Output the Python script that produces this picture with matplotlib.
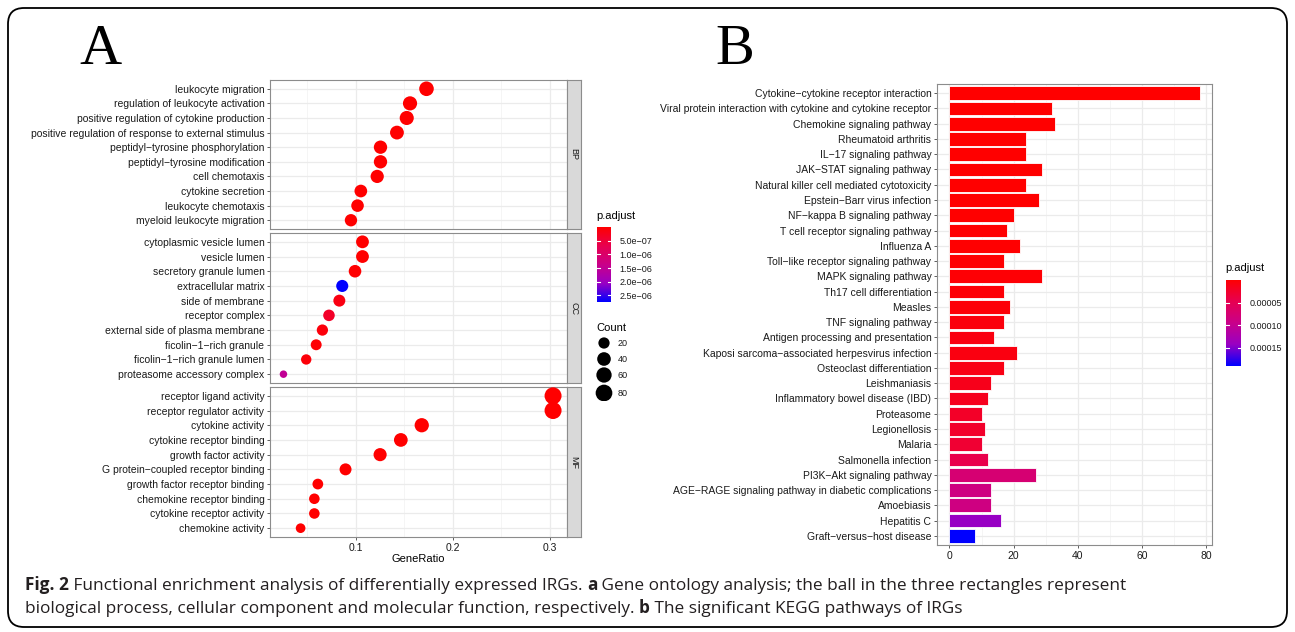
import numpy as np
import matplotlib
matplotlib.use("Agg")
import matplotlib.pyplot as plt
from matplotlib.colors import LinearSegmentedColormap, Normalize
from matplotlib.patches import FancyBboxPatch
from matplotlib.text import Annotation

W, H = 1295, 632
LABEL_FONT = ["Liberation Sans", "DejaVu Sans"]
LABEL_SIZE = 7.5

# ---- GO dot plot data (top to bottom within each ontology) ----
bp_terms = ["leukocyte migration", "regulation of leukocyte activation",
            "positive regulation of cytokine production",
            "positive regulation of response to external stimulus",
            "peptidyl\u2212tyrosine phosphorylation", "peptidyl\u2212tyrosine modification",
            "cell chemotaxis", "cytokine secretion", "leukocyte chemotaxis",
            "myeloid leukocyte migration"]
bp_ratio = [0.1729, 0.1559, 0.1525, 0.1424, 0.1254, 0.1254, 0.1220, 0.1051, 0.1017, 0.0949]
bp_count = [51, 46, 45, 42, 37, 37, 36, 31, 30, 28]
bp_padj = [1e-12, 2e-12, 2e-12, 5e-12, 1e-11, 1e-11, 2e-11, 3e-10, 5e-10, 8e-10]

cc_terms = ["cytoplasmic vesicle lumen", "vesicle lumen", "secretory granule lumen",
            "extracellular matrix", "side of membrane", "receptor complex",
            "external side of plasma membrane", "ficolin\u22121\u2212rich granule",
            "ficolin\u22121\u2212rich granule lumen", "proteasome accessory complex"]
cc_ratio = [0.1068, 0.1068, 0.0991, 0.0859, 0.0829, 0.0722, 0.0654, 0.0590, 0.0487, 0.0252]
cc_count = [32, 32, 30, 26, 25, 22, 20, 18, 15, 8]
cc_padj = [5e-9, 5e-9, 2e-8, 2.74e-6, 1.5e-7, 3.5e-7, 1e-7, 5e-8, 8e-8, 1.5e-6]

mf_terms = ["receptor ligand activity", "receptor regulator activity", "cytokine activity",
            "cytokine receptor binding", "growth factor activity",
            "G protein\u2212coupled receptor binding", "growth factor receptor binding",
            "chemokine receptor binding", "cytokine receptor activity", "chemokine activity"]
mf_ratio = [0.3036, 0.3036, 0.1680, 0.1464, 0.1250, 0.0893, 0.0607, 0.0571, 0.0571, 0.0429]
mf_count = [85, 85, 47, 41, 35, 25, 17, 16, 16, 12]
mf_padj = [1e-30, 1e-29, 1e-20, 1e-18, 1e-12, 1e-10, 1e-9, 2e-9, 2e-9, 1e-8]

# ---- KEGG bar plot data (top to bottom) ----
kegg_terms = ["Cytokine\u2212cytokine receptor interaction",
              "Viral protein interaction with cytokine and cytokine receptor",
              "Chemokine signaling pathway", "Rheumatoid arthritis", "IL\u221217 signaling pathway",
              "JAK\u2212STAT signaling pathway", "Natural killer cell mediated cytotoxicity",
              "Epstein\u2212Barr virus infection", "NF\u2212kappa B signaling pathway",
              "T cell receptor signaling pathway", "Influenza A",
              "Toll\u2212like receptor signaling pathway", "MAPK signaling pathway",
              "Th17 cell differentiation", "Measles", "TNF signaling pathway",
              "Antigen processing and presentation",
              "Kaposi sarcoma\u2212associated herpesvirus infection",
              "Osteoclast differentiation", "Leishmaniasis",
              "Inflammatory bowel disease (IBD)", "Proteasome", "Legionellosis", "Malaria",
              "Salmonella infection", "PI3K\u2212Akt signaling pathway",
              "AGE\u2212RAGE signaling pathway in diabetic complications", "Amoebiasis",
              "Hepatitis C", "Graft\u2212versus\u2212host disease"]
kegg_count = [78, 32, 33, 24, 24, 29, 24, 28, 20, 18, 22, 17, 29, 17, 19,
              17, 14, 21, 17, 13, 12, 10, 11, 10, 12, 27, 13, 13, 16, 8]
kegg_padj = [1e-20, 1e-10, 1e-9, 1e-8, 1e-8, 2e-8, 5e-8, 1e-7, 5e-7, 1e-6, 1e-6, 2e-6,
             3e-6, 4e-6, 5e-6, 8e-6, 1e-5, 1e-5, 1.2e-5, 1.6e-5, 1.8e-5, 2.4e-5, 2.6e-5,
             3.1e-5, 4.6e-5, 7.6e-5, 8.8e-5, 8.9e-5, 1.43e-4, 1.9e-4]

count_breaks = [20, 40, 60, 80]
caption_1 = [("Fig. 2", "bold"),
             (" Functional enrichment analysis of differentially expressed IRGs. ", "normal"),
             ("a", "bold"),
             (" Gene ontology analysis; the ball in the three rectangles represent", "normal")]
caption_2 = [("biological process, cellular component and molecular function, respectively. ", "normal"),
             ("b", "bold"), (" The significant KEGG pathways of IRGs", "normal")]

# red -> blue gradient interpolated in Lab, as ggplot does
cmap = LinearSegmentedColormap.from_list(
    "padj", [(0, "#FF0000"), (0.25, "#E8004F"), (0.5, "#CA0089"), (0.75, "#9A00C3"), (1, "#0000FF")])

fig = plt.figure(figsize=(W / 100, H / 100), dpi=100)
fig.patch.set_facecolor("white")


def px_axes(x0, y0, x1, y1):
    return fig.add_axes([x0 / W, 1 - y1 / H, (x1 - x0) / W, (y1 - y0) / H])


def style_spines(ax):
    for sp in ax.spines.values():
        sp.set_color("#8C8C8C")
        sp.set_linewidth(0.8)


# rounded frame around the whole figure
frame = FancyBboxPatch((0.08, 0.05), 12.79, 6.19, boxstyle="round,pad=0,rounding_size=0.16",
                       transform=fig.dpi_scale_trans, fill=False, ec="black", lw=1.3)
fig.add_artist(frame)

fig.text(100 / W, 1 - 50 / H, "A", family="Liberation Serif", fontsize=42, ha="center", va="center")
fig.text(735 / W, 1 - 50 / H, "B", family="Liberation Serif", fontsize=42, ha="center", va="center")

# ---- panel A ----
all_counts = bp_count + cc_count + mf_count
cmin, cmax = min(all_counts), max(all_counts)


def dot_size(c):
    d_px = 7.5 + 9.5 * np.sqrt((np.asarray(c) - cmin) / (cmax - cmin))
    return (d_px * 0.72) ** 2


all_padj_a = bp_padj + cc_padj + mf_padj
norm_a = Normalize(min(all_padj_a), max(all_padj_a))

facets = [("BP", bp_terms, bp_ratio, bp_count, bp_padj, 80, 229),
          ("CC", cc_terms, cc_ratio, cc_count, cc_padj, 233, 383),
          ("MF", mf_terms, mf_ratio, mf_count, mf_padj, 387, 537)]
for i, (name, terms, ratio, count, padj, top, bottom) in enumerate(facets):
    ax = px_axes(270, top, 567, bottom)
    y = np.arange(len(terms))[::-1]
    ax.scatter(ratio, y, s=dot_size(count), c=padj, cmap=cmap, norm=norm_a,
               edgecolors="none", zorder=3)
    ax.set_xlim(0.0113, 0.318)
    ax.set_ylim(-0.6, len(terms) - 0.4)
    ax.set_yticks(y)
    ax.set_yticklabels(terms, family=LABEL_FONT, fontsize=LABEL_SIZE, color="#1a1a1a")
    ax.set_xticks([0.1, 0.2, 0.3])
    ax.set_xticks([0.05, 0.15, 0.25], minor=True)
    ax.grid(True, which="major", color="#EBEBEB", lw=0.9, zorder=0)
    ax.grid(True, which="minor", axis="x", color="#F4F4F4", lw=0.6, zorder=0)
    ax.set_axisbelow(True)
    ax.tick_params(axis="both", which="major", length=2.5, width=0.6, color="#444444", pad=1.5)
    ax.tick_params(axis="x", which="minor", length=0)
    style_spines(ax)
    if i < 2:
        ax.set_xticklabels([])
        ax.tick_params(axis="x", length=0)
    else:
        ax.set_xticklabels(["0.1", "0.2", "0.3"], family=LABEL_FONT, fontsize=LABEL_SIZE,
                           color="#1a1a1a")
        ax.set_xlabel("GeneRatio", family=LABEL_FONT, fontsize=8, labelpad=1)
    strip = px_axes(567, top, 581, bottom)
    strip.set_facecolor("#D9D9D9")
    strip.set_xticks([])
    strip.set_yticks([])
    style_spines(strip)
    strip.text(0.5, 0.5, name, rotation=-90, ha="center", va="center",
               fontsize=6.5, family=LABEL_FONT, color="#1a1a1a", transform=strip.transAxes)


def gradient_legend(x0, y0, x1, y1, vmin, vmax, ticks, labels):
    cax = px_axes(x0, y0, x1, y1)
    grad = np.linspace(vmin, vmax, 256)[:, None]
    cax.imshow(grad, aspect="auto", cmap=cmap, norm=Normalize(vmin, vmax),
               extent=[0, 1, vmax, vmin])
    for t in ticks:
        cax.plot([0, 0.2], [t, t], color="white", lw=0.8)
        cax.plot([0.8, 1], [t, t], color="white", lw=0.8)
    cax.set_xlim(0, 1)
    cax.set_ylim(vmax, vmin)
    cax.set_xticks([])
    cax.yaxis.tick_right()
    cax.set_yticks(ticks)
    cax.set_yticklabels(labels, family=LABEL_FONT, fontsize=6.5, color="#1a1a1a")
    cax.tick_params(axis="y", length=0, pad=6)
    for sp in cax.spines.values():
        sp.set_visible(False)
    return cax


fig.text(596 / W, 1 - 216 / H, "p.adjust", family=LABEL_FONT, fontsize=8, va="center")
gradient_legend(597, 227, 611, 302, norm_a.vmin, norm_a.vmax,
                [5e-7, 1e-6, 1.5e-6, 2e-6, 2.5e-6],
                ["5.0e\u221207", "1.0e\u221206", "1.5e\u221206", "2.0e\u221206", "2.5e\u221206"])

fig.text(596 / W, 1 - 328 / H, "Count", family=LABEL_FONT, fontsize=8, va="center")
lax = px_axes(592, 335, 640, 401)
lax.set_xlim(0, 48)
lax.set_ylim(66, 0)
lax.scatter([12] * 4, [8, 24, 40, 58], s=dot_size(count_breaks), color="black", edgecolors="none")
for yy, b in zip([8, 24, 40, 58], count_breaks):
    lax.text(26, yy, str(b), family=LABEL_FONT, fontsize=6.5, va="center", color="#1a1a1a")
lax.axis("off")

# ---- panel B ----
norm_b = Normalize(min(kegg_padj), max(kegg_padj))
bx = px_axes(937, 84, 1212, 545)
yb = np.arange(len(kegg_terms))[::-1]
bx.barh(yb, kegg_count, height=0.9, color=cmap(norm_b(kegg_padj)),
        edgecolor="white", linewidth=0.6, zorder=3)
bx.set_xlim(-3.9, 81.9)
bx.set_ylim(-0.6, len(kegg_terms) - 0.4)
bx.set_yticks(yb)
bx.set_yticklabels(kegg_terms, family=LABEL_FONT, fontsize=LABEL_SIZE, color="#1a1a1a")
bx.set_xticks([0, 20, 40, 60, 80])
bx.set_xticks([10, 30, 50, 70], minor=True)
bx.set_xticklabels(["0", "20", "40", "60", "80"], family=LABEL_FONT, fontsize=LABEL_SIZE,
                   color="#1a1a1a")
bx.grid(True, which="major", color="#EBEBEB", lw=0.9, zorder=0)
bx.grid(True, which="minor", axis="x", color="#F4F4F4", lw=0.6, zorder=0)
bx.set_axisbelow(True)
bx.tick_params(axis="both", which="major", length=2.5, width=0.6, color="#444444", pad=1.5)
bx.tick_params(axis="x", which="minor", length=0)
style_spines(bx)

fig.text(1225 / W, 1 - 268 / H, "p.adjust", family=LABEL_FONT, fontsize=8, va="center")
gradient_legend(1226, 280, 1241, 366, norm_b.vmin, norm_b.vmax,
                [5e-5, 1e-4, 1.5e-4], ["0.00005", "0.00010", "0.00015"])


# ---- caption: bold and regular runs placed one after another ----
def caption_line(parts, x, y, size=12.4):
    prev = fig.text(x / W, 1 - y / H, parts[0][0], fontweight=parts[0][1],
                    family="Open Sans", fontsize=size, color="#231F20", va="baseline")
    for txt, wt in parts[1:]:
        prev = fig.add_artist(Annotation(
            txt, xy=(1, 0), xycoords=prev, va="bottom", ha="left",
            fontweight=wt, family="Open Sans", fontsize=size, color="#231F20"))
    return prev


caption_line(caption_1, 25, 590)
caption_line(caption_2, 25, 613)

fig.savefig("out.png", dpi=100)
